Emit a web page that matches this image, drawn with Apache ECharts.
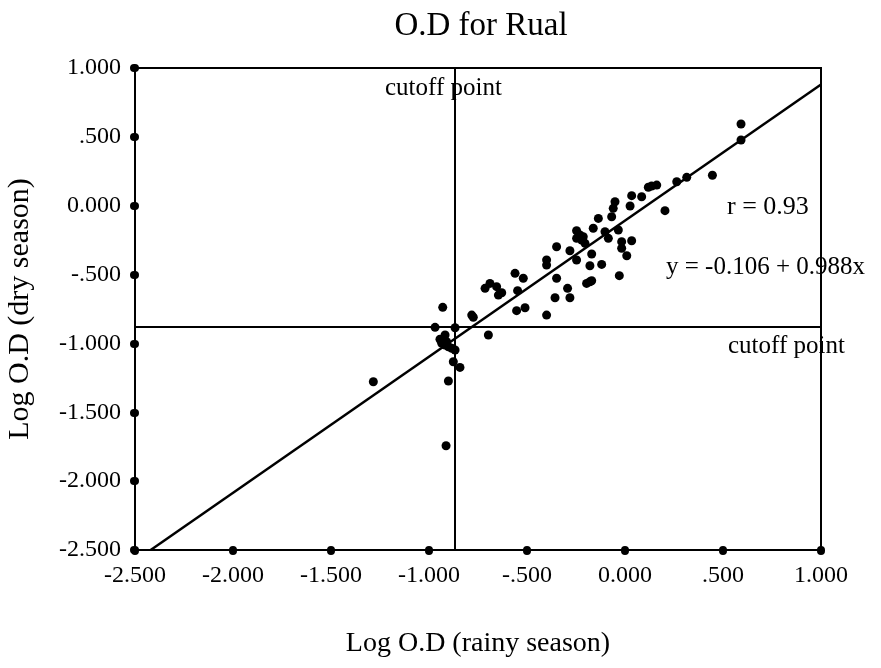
<!DOCTYPE html>
<html>
<head>
<meta charset="utf-8">
<script src="https://cdn.jsdelivr.net/npm/echarts@6/dist/echarts.min.js"></script>
<style>html,body{margin:0;padding:0;background:#fff;}#c{width:881px;height:668px;}</style>
</head>
<body>
<div id="c"></div>
<script>
// ---- data ----
const rainyX = [0.592,0.592,0.446,0.315,0.264,0.204,0.162,0.136,0.119,0.085,0.034,0.026,-0.051,-0.060,-0.068,-0.136,-0.162,-0.102,-0.085,-0.034,-0.017,-0.017,0.009,0.034,-0.213,-0.221,-0.170,-0.179,-0.119,-0.029,-0.179,-0.196,-0.247,-0.247,-0.230,-0.204,-0.349,-0.281,-0.247,-0.400,-0.400,-0.349,-0.170,-0.293,-0.357,-0.281,-0.400,-0.561,-0.519,-0.548,-0.553,-0.510,-0.714,-0.689,-0.655,-0.646,-0.629,-0.782,-0.774,-0.930,-0.969,-0.697,-0.867,-0.918,-0.944,-0.935,-0.918,-0.901,-0.884,-0.867,-0.910,-0.876,-0.842,-0.901,-1.284,-0.913];
const dryY = [0.593,0.477,0.221,0.206,0.174,-0.036,0.150,0.143,0.134,0.065,0.073,-0.002,0.029,-0.019,-0.080,-0.092,-0.164,-0.189,-0.237,-0.176,-0.261,-0.309,-0.363,-0.254,-0.225,-0.249,-0.351,-0.436,-0.426,-0.508,-0.552,-0.564,-0.182,-0.237,-0.213,-0.273,-0.298,-0.327,-0.394,-0.394,-0.431,-0.527,-0.545,-0.600,-0.668,-0.668,-0.794,-0.491,-0.527,-0.617,-0.762,-0.741,-0.600,-0.564,-0.588,-0.649,-0.632,-0.794,-0.810,-0.738,-0.883,-0.939,-0.886,-0.939,-0.970,-0.999,-1.011,-1.024,-1.035,-1.048,-0.987,-1.133,-1.174,-1.273,-1.278,-1.743];
const fitLineX = [-2.42, 1.0];
const fitLineY = [-2.50, 0.88];
const cutoffX = -0.867;
const cutoffY = -0.881;
const xTickLabels = ['-2.500','-2.000','-1.500','-1.000','-.500','0.000','.500','1.000'];
const yTickLabels = ['-2.500','-2.000','-1.500','-1.000','-.500','0.000','.500','1.000'];
const axisMin = -2.5, axisMax = 1.0, axisStep = 0.5;
const titleText = 'O.D for Rual';
const xName = 'Log O.D (rainy season)';
const yName = 'Log O.D (dry season)';
const rText = 'r = 0.93';
const eqText = 'y = -0.106 + 0.988x';
const cutoffText = 'cutoff point';

// ---- chart ----
const FONT = 'Liberation Serif';
const chart = echarts.init(document.getElementById('c'), null, {renderer: 'canvas'});
const tickLabel = (arr) => (v) => {
  const i = Math.round((v - axisMin) / axisStep);
  return arr[i] !== undefined ? arr[i] : '';
};
const axisCommon = {
  type: 'value', min: axisMin, max: axisMax, interval: axisStep,
  splitLine: {show: false},
  axisLine: {show: true, onZero: false, lineStyle: {color: '#000', width: 2}},
  axisTick: {show: true, inside: false, length: 1, lineStyle: {color: '#000', width: 8, cap: 'round'}},
  nameLocation: 'middle'
};
chart.setOption({
  animation: false,
  backgroundColor: '#fff',
  textStyle: {fontFamily: FONT, color: '#000'},
  title: {
    text: titleText, left: 476, textAlign: 'center', top: 5,
    textStyle: {fontFamily: FONT, fontSize: 33, fontWeight: 'normal', color: '#000'}
  },
  grid: {left: 135, right: 60, top: 68, bottom: 118, show: true, borderColor: '#000', borderWidth: 2, containLabel: false, outerBoundsMode: 'none'},
  xAxis: Object.assign({}, axisCommon, {
    name: xName, nameGap: 80,
    nameTextStyle: {fontFamily: FONT, fontSize: 28, color: '#000'},
    axisLabel: {formatter: tickLabel(xTickLabels), fontFamily: FONT, fontSize: 24, color: '#000', margin: 14}
  }),
  yAxis: Object.assign({}, axisCommon, {
    name: yName, nameGap: 100,
    nameTextStyle: {fontFamily: FONT, fontSize: 30, color: '#000'},
    axisLabel: {formatter: tickLabel(yTickLabels), fontFamily: FONT, fontSize: 24, color: '#000', margin: 14}
  }),
  series: [
    {
      type: 'scatter', name: 'OD',
      data: rainyX.map((x, i) => [x, dryY[i]]),
      symbol: 'circle', symbolSize: 9,
      itemStyle: {color: '#000', opacity: 1},
      z: 5,
      markLine: {
        silent: true, symbol: ['none', 'none'],
        label: {show: false},
        lineStyle: {color: '#000', width: 2, type: 'solid'},
        data: [{xAxis: cutoffX}, {yAxis: cutoffY}]
      }
    },
    {
      type: 'line', name: 'fit',
      data: fitLineX.map((x, i) => [x, fitLineY[i]]),
      symbol: 'none', clip: true,
      lineStyle: {color: '#000', width: 2.5},
      z: 4
    }
  ],
  graphic: [
    {type: 'text', left: 385, top: 76, style: {text: cutoffText, font: '25px "Liberation Serif"', fill: '#000'}},
    {type: 'text', left: 728, top: 334, style: {text: cutoffText, font: '25px "Liberation Serif"', fill: '#000'}},
    {type: 'text', left: 727, top: 194, style: {text: rText, font: '26px "Liberation Serif"', fill: '#000'}},
    {type: 'text', left: 666, top: 255, style: {text: eqText, font: '25px "Liberation Serif"', fill: '#000'}}
  ]
});
</script>
</body>
</html>
